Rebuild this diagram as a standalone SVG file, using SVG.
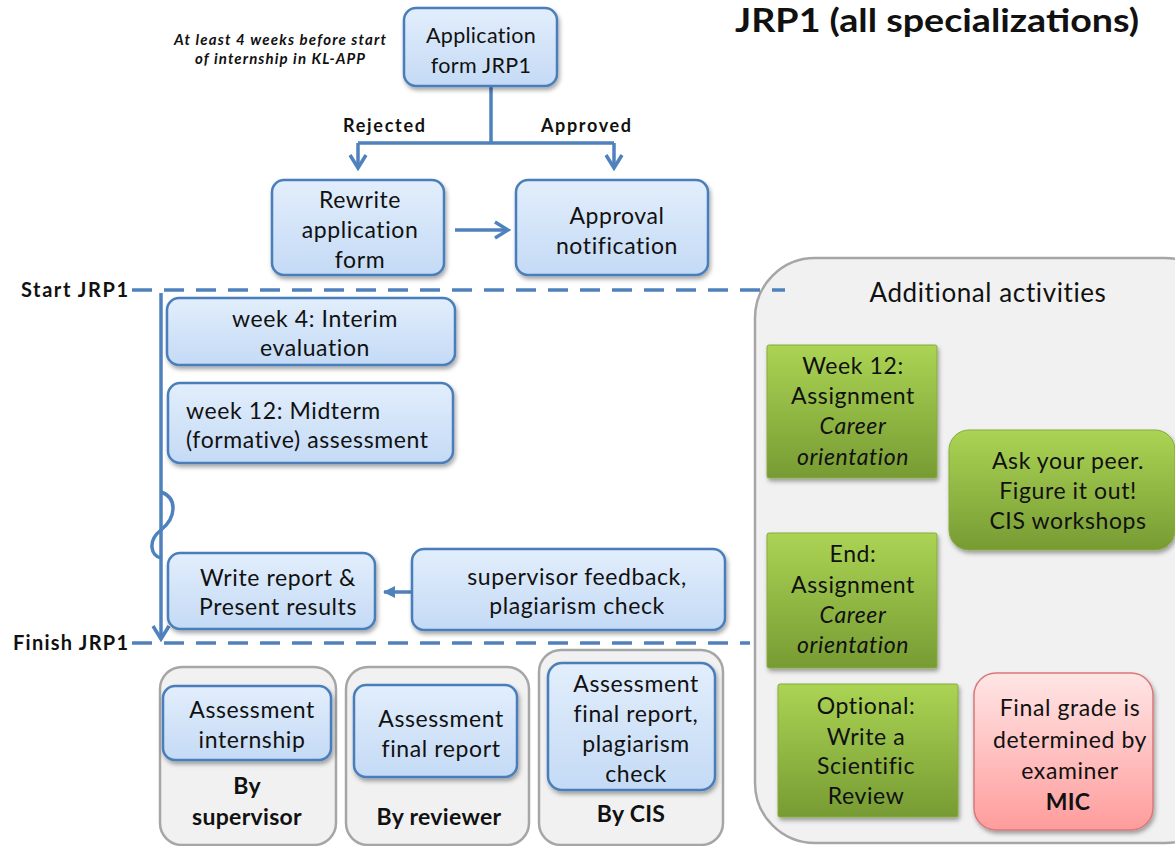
<svg xmlns="http://www.w3.org/2000/svg" width="1175" height="846" viewBox="0 0 1175 846">
<defs>
<style>
text{font-family:Lato,"Open Sans","Liberation Sans",sans-serif;fill:#111}
.t{font-size:23px;letter-spacing:0.6px;text-anchor:middle}
.tl{font-size:23px;letter-spacing:0.6px}
.b{font-weight:bold;letter-spacing:0.3px}
.i{font-style:italic}
.lab{font-size:18px;font-weight:bold;text-anchor:middle}
.side{font-size:20px;font-weight:bold;text-anchor:end}
.blue{fill:url(#gBlue);stroke:#4a7ebb;stroke-width:2.5;filter:url(#sh)}
.green{fill:url(#gGreen);stroke:#86ab3c;stroke-width:1;filter:url(#sh)}
.pink{fill:url(#gPink);stroke:#d9787a;stroke-width:1.5;filter:url(#sh)}
.gray{fill:#f1f1f1;stroke:#a6a6a6;stroke-width:2.5}
.con{fill:none;stroke:#4f81bd;stroke-width:3.5}
.dash{fill:none;stroke:#4f81bd;stroke-width:3.5;stroke-dasharray:20 12}
</style>
<linearGradient id="gBlue" x1="0" y1="0" x2="0" y2="1"><stop offset="0" stop-color="#e2eefc"/><stop offset="1" stop-color="#c4daf5"/></linearGradient>
<linearGradient id="gGreen" x1="0" y1="0" x2="0" y2="1"><stop offset="0" stop-color="#abd454"/><stop offset="1" stop-color="#779b33"/></linearGradient>
<linearGradient id="gPink" x1="0" y1="0" x2="0" y2="1"><stop offset="0" stop-color="#ffe6e6"/><stop offset="1" stop-color="#ff9c9c"/></linearGradient>
<filter id="sh" x="-10%" y="-10%" width="125%" height="130%"><feDropShadow dx="1.5" dy="3" stdDeviation="2" flood-color="#000" flood-opacity="0.35"/></filter>
<marker id="open" viewBox="0 0 20 20" refX="17" refY="10" markerWidth="20" markerHeight="20" markerUnits="userSpaceOnUse" orient="auto"><path d="M4,2 L17,10 L4,18" fill="none" stroke="#4f81bd" stroke-width="3.5"/></marker>
<marker id="fill" viewBox="0 0 12 12" refX="11" refY="6" markerWidth="12" markerHeight="12" markerUnits="userSpaceOnUse" orient="auto"><path d="M0,0 L12,6 L0,12 Z" fill="#4f81bd"/></marker>
</defs>
<rect width="1175" height="846" fill="#fff"/>
<text x="735" y="32" textLength="404" lengthAdjust="spacingAndGlyphs" style="font-size:32px;font-weight:bold">JRP1 (all specializations)</text>
<g id="note"><text x="280" y="45" textLength="212" style="font-size:15px;font-weight:bold;font-style:italic;text-anchor:middle">At least 4 weeks before start</text><text x="280" y="64" textLength="170" style="font-size:15px;font-weight:bold;font-style:italic;text-anchor:middle">of internship in KL-APP</text></g>
<g id="additional"><rect class="gray" x="755" y="258" width="470" height="585" rx="60"/><text x="988" y="302" style="font-size:26px;letter-spacing:0.6px;text-anchor:middle">Additional activities</text></g>
<g id="group-supervisor"><rect class="gray" x="160" y="667" width="176" height="178" rx="22"/><text class="t b" x="247" y="794">By</text><text class="t b" x="247" y="825">supervisor</text></g>
<g id="group-reviewer"><rect class="gray" x="346" y="667" width="183" height="178" rx="22"/><text class="t b" x="439" y="825">By reviewer</text></g>
<g id="group-cis"><rect class="gray" x="539" y="650" width="184" height="195" rx="22"/><text class="t b" x="631" y="822">By CIS</text></g>
<g id="connectors">
<path class="con" d="M491,87 V143 M358,143 H614"/>
<path class="con" d="M358,143 V168" marker-end="url(#open)"/>
<path class="con" d="M614,143 V168" marker-end="url(#open)"/>
<path class="con" d="M455,230 H508" marker-end="url(#open)"/>
<path class="dash" d="M132,290 H785"/>
<path class="dash" d="M132,643 H750"/>
<path class="con" d="M161,293 V639" marker-end="url(#open)"/>
<path class="con" d="M161,492 C178,498 176,518 161,530 C147,541 151,556 161,558"/>
<path class="con" d="M412,592 H384" marker-end="url(#fill)"/>
</g>
<text class="side" x="128" y="297" textLength="107">Start JRP1</text>
<text class="side" x="128" y="650" textLength="115">Finish JRP1</text>
<text class="lab" x="384" y="132" textLength="82">Rejected</text>
<text class="lab" x="586" y="132" textLength="90">Approved</text>
<g id="application"><rect class="blue" x="404" y="8" width="153" height="78" rx="12"/><text class="t" x="481" y="43" style="font-size:21.5px;letter-spacing:0.3px">Application</text><text class="t" x="481" y="73" style="font-size:21.5px;letter-spacing:0.3px">form JRP1</text></g>
<g id="rewrite"><rect class="blue" x="272" y="180" width="172" height="95" rx="12"/><text class="t" x="360" y="208">Rewrite</text><text class="t" x="360" y="238">application</text><text class="t" x="360" y="268">form</text></g>
<g id="approval"><rect class="blue" x="516" y="180" width="192" height="95" rx="12"/><text class="t" x="617" y="224">Approval</text><text class="t" x="617" y="254">notification</text></g>
<g id="week4"><rect class="blue" x="167" y="298" width="288" height="67" rx="12"/><text class="t" x="315" y="327">week 4: Interim</text><text class="t" x="315" y="356">evaluation</text></g>
<g id="week12"><rect class="blue" x="168" y="383" width="285" height="80" rx="12"/><text class="tl" x="186" y="419">week 12: Midterm</text><text class="tl" x="186" y="448">(formative) assessment</text></g>
<g id="write-report"><rect class="blue" x="168" y="553" width="207" height="76" rx="12"/><text class="t" x="278" y="586">Write report &amp;</text><text class="t" x="278" y="615">Present results</text></g>
<g id="feedback"><rect class="blue" x="412" y="549" width="313" height="81" rx="12"/><text class="t" x="577" y="585">supervisor feedback,</text><text class="t" x="577" y="614">plagiarism check</text></g>
<g id="assess-internship"><rect class="blue" x="163" y="686" width="168" height="74" rx="12"/><text class="t" x="252" y="718">Assessment</text><text class="t" x="252" y="748">internship</text></g>
<g id="assess-report"><rect class="blue" x="354" y="685" width="163" height="92" rx="12"/><text class="t" x="441" y="727">Assessment</text><text class="t" x="441" y="757">final report</text></g>
<g id="assess-cis"><rect class="blue" x="548" y="663" width="167" height="127" rx="14"/><text class="t" x="636" y="692">Assessment</text><text class="t" x="636" y="722">final report,</text><text class="t" x="636" y="752">plagiarism</text><text class="t" x="636" y="782">check</text></g>
<g id="week12-career"><rect class="green" x="767" y="345" width="170" height="133" rx="2"/><text class="t" x="853" y="374">Week 12:</text><text class="t" x="853" y="404">Assignment</text><text class="t i" x="853" y="434">Career</text><text class="t i" x="853" y="465">orientation</text></g>
<g id="ask-peer"><rect class="green" x="949" y="430" width="226" height="120" rx="20"/><text class="t" x="1068" y="469">Ask your peer.</text><text class="t" x="1068" y="499">Figure it out!</text><text class="t" x="1068" y="529">CIS workshops</text></g>
<g id="end-career"><rect class="green" x="767" y="533" width="170" height="135" rx="2"/><text class="t" x="853" y="562">End:</text><text class="t" x="853" y="593">Assignment</text><text class="t i" x="853" y="623">Career</text><text class="t i" x="853" y="653">orientation</text></g>
<g id="optional-review"><rect class="green" x="778" y="684" width="180" height="133" rx="2"/><text class="t" x="866" y="714">Optional:</text><text class="t" x="866" y="745">Write a</text><text class="t" x="866" y="774">Scientific</text><text class="t" x="866" y="804">Review</text></g>
<g id="final-grade"><rect class="pink" x="974" y="673" width="179" height="157" rx="22"/><text class="t" x="1070" y="716">Final grade is</text><text class="t" x="1070" y="748">determined by</text><text class="t" x="1070" y="779">examiner</text><text class="t b" x="1068" y="810">MIC</text></g>
</svg>
